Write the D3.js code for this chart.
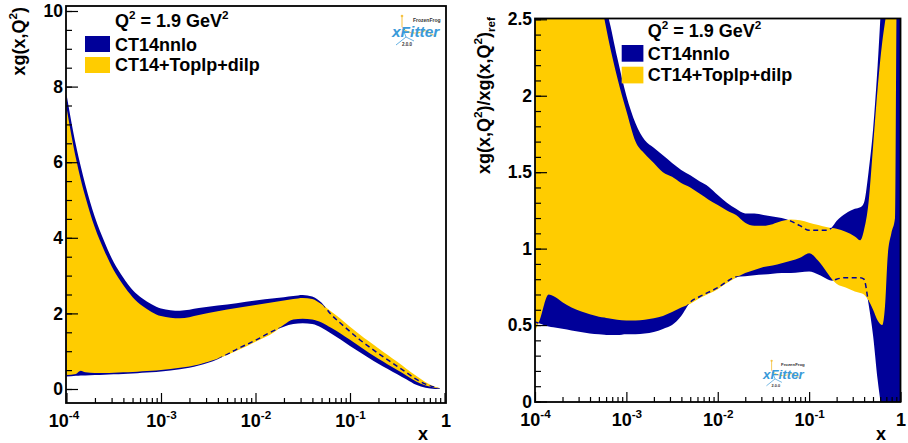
<!DOCTYPE html>
<html><head><meta charset="utf-8">
<script src="https://cdn.jsdelivr.net/npm/d3@7"></script>
<style>
body{margin:0;background:#fff}
svg{display:block}
text{font-family:"Liberation Sans",Arial,Helvetica,sans-serif;font-weight:bold;fill:#000}
</style>
</head><body><svg id="c" width="908" height="443"></svg>
<script>
const BLUE="#000099", YELLOW="#ffcc00";
const legendLabels=["CT14nnlo","CT14+Toplp+dilp"];
const scaleLabel=[["Q","n"],["2","sup"],[" = 1.9 GeV","n"],["2","sup"]];
const xMajorTicks=[1e-4,1e-3,1e-2,1e-1,1];
const xMajorLabels=[[["10","n"],["-4","sup"]],[["10","n"],["-3","sup"]],[["10","n"],["-2","sup"]],[["10","n"],["-1","sup"]],[["1","n"]]];
const leftYTicks=[0,2,4,6,8,10];
const rightYTicks=[0,0.5,1,1.5,2,2.5];
const leftYTitle=[["xg(x,Q","n"],["2","sup"],[")","n"]];
const rightYTitle=[["xg(x,Q","n"],["2","sup"],[")/xg(x,Q","n"],["2","sup"],[")","n"],["ref","sub"]];

// ---- left panel: xg(x,Q2), log10(x) grid ----
const leftLogX=[-4,-3.9,-3.85,-3.8,-3.7,-3.6,-3.5,-3.4,-3.3,-3.2,-3.1,-3.0,-2.8,-2.6,-2.4,-2.2,-2.0,-1.8,-1.7,-1.6,-1.5,-1.4,-1.3,-1.2,-1.1,-1.0,-0.9,-0.8,-0.7,-0.6,-0.5,-0.4,-0.3,-0.2,-0.1,-0.05];
const leftCT14Up=[7.80,6.45,5.9,5.4,4.55,3.9,3.35,2.95,2.62,2.40,2.24,2.13,2.07,2.14,2.21,2.27,2.34,2.40,2.43,2.46,2.49,2.45,2.28,1.97,1.74,1.52,1.31,1.12,0.94,0.77,0.60,0.43,0.26,0.13,0.045,0.015];
const leftCT14Lo=[0.33,0.35,0.36,0.36,0.37,0.38,0.39,0.40,0.41,0.43,0.44,0.46,0.52,0.62,0.79,1.05,1.29,1.55,1.65,1.72,1.74,1.72,1.62,1.47,1.31,1.14,0.98,0.82,0.67,0.53,0.39,0.25,0.11,0.03,0.0,0.0];
const leftTopUp=[7.45,6.1,5.55,5.08,4.27,3.66,3.14,2.75,2.43,2.2,2.04,1.93,1.87,1.96,2.06,2.14,2.22,2.30,2.34,2.38,2.41,2.38,2.24,2.05,1.86,1.65,1.45,1.26,1.08,0.90,0.72,0.53,0.35,0.18,0.06,0.02];
const leftTopLo=[0.37,0.40,0.48,0.44,0.42,0.42,0.43,0.44,0.45,0.47,0.48,0.50,0.56,0.65,0.80,1.01,1.25,1.51,1.70,1.84,1.86,1.84,1.76,1.62,1.47,1.30,1.13,0.96,0.80,0.65,0.50,0.35,0.20,0.09,0.03,0.01];

// ---- right panel: ratio to reference, log10(x) grid ----
const rightLogX=[-4,-3.95,-3.85,-3.8,-3.7,-3.6,-3.5,-3.4,-3.3,-3.24,-3.2,-3.1,-3.0,-2.9,-2.8,-2.7,-2.6,-2.5,-2.4,-2.3,-2.2,-2.1,-2.0,-1.9,-1.8,-1.7,-1.6,-1.5,-1.4,-1.3,-1.2,-1.1,-1.0,-0.9,-0.8,-0.75,-0.7,-0.6,-0.5,-0.44,-0.4,-0.35,-0.3,-0.25,-0.2,-0.17,-0.14,-0.1,-0.06,-0.04,-0.02,0];
const rightCT14Up=[2.9,2.9,2.9,2.9,2.9,2.9,2.85,2.8,2.7,2.6,2.52,2.25,2.0,1.82,1.71,1.66,1.61,1.56,1.515,1.48,1.44,1.405,1.35,1.30,1.26,1.23,1.23,1.22,1.21,1.20,1.18,1.15,1.12,1.12,1.12,1.14,1.18,1.23,1.26,1.27,1.30,1.5,1.78,2.2,2.7,2.9,2.9,2.9,2.9,2.9,2.9,2.9];
const rightCT14Lo=[0.52,0.51,0.49,0.485,0.476,0.465,0.455,0.445,0.44,0.437,0.435,0.435,0.44,0.44,0.445,0.455,0.475,0.50,0.56,0.65,0.685,0.715,0.745,0.785,0.815,0.82,0.826,0.83,0.835,0.84,0.84,0.845,0.85,0.83,0.80,0.79,0.80,0.81,0.81,0.81,0.80,0.64,0.43,0.14,-0.08,-0.2,-0.3,-0.4,-0.5,-0.5,-0.5,-0.5];
const rightTopUp=[2.8,2.8,2.8,2.8,2.8,2.8,2.8,2.8,2.7,2.5,2.38,2.12,1.9,1.70,1.62,1.56,1.50,1.47,1.43,1.40,1.36,1.32,1.285,1.25,1.22,1.17,1.15,1.15,1.16,1.18,1.19,1.185,1.17,1.155,1.14,1.135,1.13,1.11,1.08,1.055,1.12,1.3,1.67,2.05,2.35,2.48,2.6,2.8,2.8,2.8,2.8,2.8];
const rightTopLo=[0.46,0.53,0.70,0.69,0.65,0.615,0.59,0.57,0.555,0.55,0.545,0.535,0.53,0.53,0.535,0.545,0.56,0.585,0.615,0.64,0.675,0.705,0.735,0.775,0.81,0.84,0.86,0.88,0.89,0.905,0.92,0.94,0.97,0.92,0.84,0.80,0.77,0.745,0.72,0.71,0.70,0.66,0.60,0.53,0.50,0.62,0.95,1.1,1.2,2.7,2.75,2.8];

const svg=d3.select("#c");
const defs=svg.append("defs");

function rich(t, parts, fs){
  let off=0;
  parts.forEach(([s,k],i)=>{
    let target = k==="sup" ? -0.42*fs : (k==="sub" ? 0.28*fs : 0);
    const ts=t.append("tspan").attr("font-size",k==="n"?fs:0.65*fs).text(s);
    if(i>0 || target!==0) ts.attr("dy",target-off);
    off=target;
  });
}

function panel(cfg){
  const g=svg.append("g");
  const x=d3.scaleLog().domain([1e-4,1]).range(cfg.xr);
  const y=d3.scaleLinear().domain(cfg.yd).range(cfg.yr);
  const id="clip"+cfg.name;
  defs.append("clipPath").attr("id",id).append("rect")
    .attr("x",cfg.frame[0]).attr("y",cfg.frame[1]).attr("width",cfg.frame[2]-cfg.frame[0]).attr("height",cfg.frame[3]-cfg.frame[1]);
  const plot=g.append("g").attr("clip-path",`url(#${id})`);
  const mk=(lx,lo,up)=>lx.map((l,i)=>({x:Math.pow(10,l),lo:lo[i],up:up[i]}));
  const dBlue=mk(cfg.lx,cfg.bLo,cfg.bUp), dYel=mk(cfg.lx,cfg.yLo,cfg.yUp);
  const area=d3.area().x(d=>x(d.x)).y0(d=>y(d.lo)).y1(d=>y(d.up)).curve(d3.curveMonotoneX);
  plot.append("path").datum(dBlue).attr("d",area).attr("fill",BLUE);
  plot.append("path").datum(dYel).attr("d",area).attr("fill",YELLOW);
  // CT14nnlo band edges (dashed), visible where they run across the yellow band
  const yid="yclip"+cfg.name;
  defs.append("clipPath").attr("id",yid).append("path").datum(dYel).attr("d",area);
  const lineUp=d3.line().x(d=>x(d.x)).y(d=>y(d.up)).curve(d3.curveMonotoneX);
  const lineLo=d3.line().x(d=>x(d.x)).y(d=>y(d.lo)).curve(d3.curveMonotoneX);
  const dg=plot.append("g").attr("clip-path",`url(#${yid})`);
  [lineUp,lineLo].forEach(l=>dg.append("path").datum(dBlue).attr("d",l)
     .attr("fill","none").attr("stroke",BLUE).attr("stroke-width",1.5).attr("stroke-dasharray","5,3.5"));

  // minor x ticks
  const minor=[];
  for(let e=-4;e<0;e++) for(let m=2;m<=9;m++) minor.push(m*Math.pow(10,e));
  g.append("g").attr("transform",`translate(0,${cfg.frame[3]})`)
    .call(d3.axisBottom(x).tickValues(minor).tickSize(-5).tickFormat(""))
    .call(a=>a.select(".domain").remove()).selectAll("line").attr("stroke-width",1.2);
  const ax=g.append("g").attr("transform",`translate(0,${cfg.frame[3]})`)
    .call(d3.axisBottom(x).tickValues(xMajorTicks).tickSize(-10).tickPadding(11).tickFormat(""));
  ax.select(".domain").remove();
  ax.selectAll("line").attr("stroke-width",1.2);
  ax.selectAll(".tick text").remove();
  ax.selectAll(".tick").each(function(d,i){
    const t=d3.select(this).append("text").attr("y",24).attr("x",cfg.xlabShift[i]||0)
      .attr("text-anchor","middle").attr("font-size",18).attr("fill","#000");
    rich(t,xMajorLabels[i],18);
  });
  // y axis
  const yMinor=d3.range(0, cfg.ymax+1e-9, cfg.yminor);
  g.append("g").attr("transform",`translate(${cfg.frame[0]},0)`)
    .call(d3.axisLeft(y).tickValues(yMinor).tickSize(-6).tickFormat(""))
    .call(a=>a.select(".domain").remove()).selectAll("line").attr("stroke-width",1.2);
  const ay=g.append("g").attr("transform",`translate(${cfg.frame[0]},0)`)
    .call(d3.axisLeft(y).tickValues(cfg.yticks).tickSize(-12).tickPadding(3).tickFormat(d3.format("")));
  ay.select(".domain").remove();
  ay.selectAll("line").attr("stroke-width",1.2);
  ay.selectAll("text").attr("font-size",17.5).attr("font-weight","bold").attr("fill","#000");
  ax.attr("font-size",null).attr("font-family",null); ay.attr("font-family",null).attr("font-size",null);

  // frame
  g.append("rect").attr("x",cfg.frame[0]).attr("y",cfg.frame[1])
    .attr("width",cfg.frame[2]-cfg.frame[0]).attr("height",cfg.frame[3]-cfg.frame[1])
    .attr("fill","none").attr("stroke","#000").attr("stroke-width",1.8);

  // titles
  const yt=g.append("text").attr("transform",`translate(${cfg.ytitle[0]},${cfg.ytitle[1]}) rotate(-90)`)
    .attr("text-anchor","end").attr("font-size",18);
  rich(yt,cfg.ytitleParts,18);
  g.append("text").attr("x",cfg.xtitle[0]).attr("y",cfg.xtitle[1]).attr("font-size",18).text("x");

  // legend
  const L=cfg.legend;
  const q=g.append("text").attr("x",L.tx).attr("y",L.qy).attr("font-size",18);
  rich(q,scaleLabel,18);
  [BLUE,YELLOW].forEach((c,i)=>{
    g.append("rect").attr("x",L.bx).attr("y",L.by[i]).attr("width",L.bw).attr("height",L.bh).attr("fill",c);
    g.append("text").attr("x",L.tx).attr("y",L.ty[i]).attr("font-size",18).text(legendLabels[i]);
  });

  logo(g,cfg.logo[0],cfg.logo[1],cfg.logo[2]);
}

function logo(g,x0,y0,s){
  const lg=g.append("g").attr("transform",`translate(${x0},${y0}) scale(${s})`);
  lg.append("path").attr("d","M10,0 L10,12 M10,12 C14,18 24,20 32,16 C36,14 40,22 44,20")
    .attr("fill","none").attr("stroke","#f5c242").attr("stroke-width",1);
  lg.append("path").attr("d","M4,30 L14,22 L22,26 M14,22 L11,14").attr("fill","none").attr("stroke","#3a9ad9").attr("stroke-width",0.8);
  lg.append("circle").attr("cx",10).attr("cy",1).attr("r",1.3).attr("fill","#f5c242");
  lg.append("text").attr("x",21).attr("y",7).attr("font-size",5).attr("font-weight","normal").style("fill","#333").text("FrozenFrog");
  lg.append("text").attr("x",0).attr("y",22).attr("font-size",15.5).attr("font-style","italic").attr("font-weight","normal")
    .style("fill","#3a9ad9").text("xFitter");
  lg.append("text").attr("x",10).attr("y",31).attr("font-size",4.5).attr("font-weight","normal").style("fill","#333").text("2.0.0");
}

panel({name:"L", xr:[66.5,444.5], yd:[0,10], yr:[389,11], frame:[66,6,446,403], ymax:10, yminor:0.5,
  yticks:leftYTicks, lx:leftLogX, bUp:leftCT14Up, bLo:leftCT14Lo, yUp:leftTopUp, yLo:leftTopLo,
  ytitle:[25,7], ytitleParts:leftYTitle, xtitle:[418,440], xlabShift:[-3,0,0,0,1],
  legend:{tx:115,qy:26.7,bx:85,by:[36,57],bw:25,bh:16,ty:[50.7,70.7]}, logo:[392,15,1]});
panel({name:"R", xr:[535,900.5], yd:[0,2.5], yr:[401.5,19.3], frame:[535,18.5,900.5,402], ymax:2.5, yminor:0.1,
  yticks:rightYTicks, lx:rightLogX, bUp:rightCT14Up, bLo:rightCT14Lo, yUp:rightTopUp, yLo:rightTopLo,
  ytitle:[490,17], ytitleParts:rightYTitle, xtitle:[876,440], xlabShift:[0,0,0,0,0],
  legend:{tx:647.7,qy:37,bx:621.7,by:[45,66.7],bw:21.7,bh:16.7,ty:[60,81]}, logo:[763,360,0.86]});
</script>
</body></html>
